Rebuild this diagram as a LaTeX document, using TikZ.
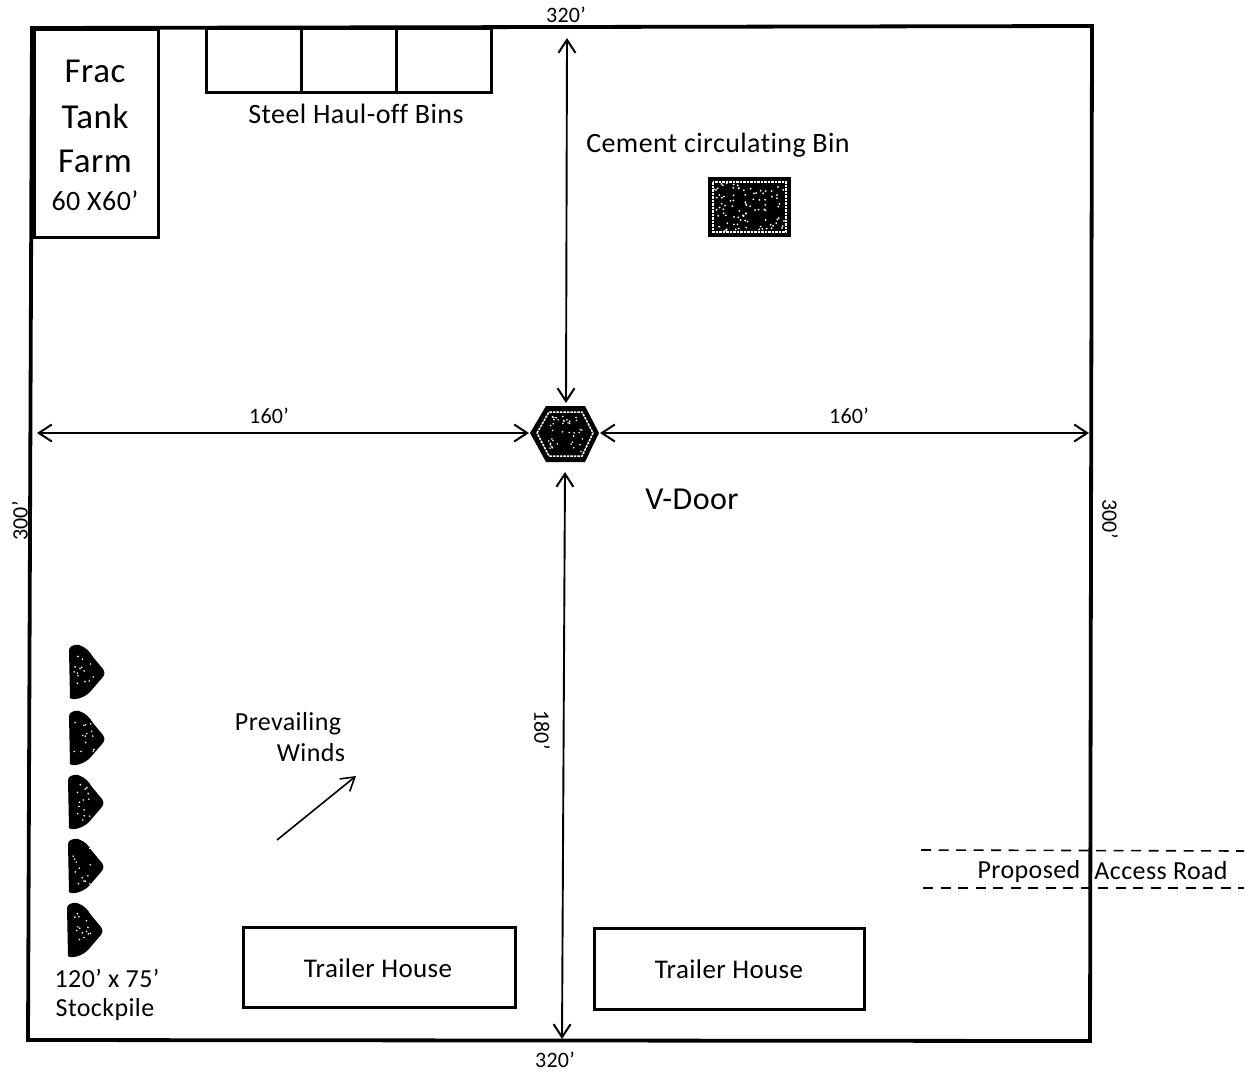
\documentclass[tikz,border=0pt]{standalone}
\usepackage{fontspec}
\setmainfont[LetterSpace=1.5,Ligatures=NoCommon]{Carlito}
\usetikzlibrary{arrows.meta}
\tikzset{
  x=1pt,y=-1pt,
  frame/.style={draw=black,line width=3.8pt,line join=miter},
  box/.style={draw=black,line width=3pt},
  dim/.style={draw=black,line width=1.9pt,{Straight Barb[length=13pt,width=17pt,line width=2pt]}-{Straight Barb[length=13pt,width=17pt,line width=2pt]}},
  wind/.style={draw=black,line width=1.6pt,-{Straight Barb[length=13pt,width=16pt,line width=1.6pt]}},
  road/.style={draw=black,line width=1.6pt,dash pattern=on 10pt off 7.5pt},
  lab/.style={font=\fontsize{28}{30}\selectfont,inner sep=0pt,anchor=center,text=black},
  house/.style={font=\fontsize{27}{30}\selectfont,inner sep=0pt,anchor=center,text=black},
  mid/.style={font=\fontsize{26}{28}\selectfont,inner sep=0pt,anchor=center,text=black},
  big/.style={font=\fontsize{35}{38}\selectfont,inner sep=0pt,anchor=center,text=black},
  small/.style={font=\fontsize{22}{24}\selectfont,inner sep=0pt,anchor=center,text=black},
  ring/.style={draw=white,line width=1.5pt,dash pattern=on 2.5pt off 1pt},
  pile/.pic={
    \fill[black] (-1,-22) .. controls (-1,-26) and (5,-28) .. (9,-27)
      .. controls (16,-25) and (20,-20) .. (23,-15) -- (33,-3)
      .. controls (35,0) and (35,3) .. (32,6) -- (20,20)
      .. controls (14,26) and (3,29) .. (0,26) -- cycle;
    \foreach \i in {1,...,14}{\fill[white] (4+rnd*20,-18+rnd*36) circle[radius=0.9pt];}
  }
}
\begin{document}
\begin{tikzpicture}
\pgfmathsetseed{7}
\useasboundingbox (0,0) rectangle (1246,1073);
\fill[white] (0,0) rectangle (1246,1073);

% site frame
\draw[frame] (32,28) -- (1092,26) -- (1090,1041) -- (28,1040) -- cycle;

% frac tank
\draw[box] (34,30) rectangle (158,237);
\node[big] (frac) at (95,71) {Frac};
\node[big] (tank) at (95,116) {Tank};
\node[big] (farm) at (95,161) {Farm};
\node[lab] (size) at (95,201) {60 X60’};

% bins
\draw[box] (206,29) rectangle (491,92);
\draw[box] (301,29) -- (301,92);
\draw[box] (396,29) -- (396,92);
\node[lab] (bins) at (356,114) {Steel Haul-off Bins};

% cement bin
\node[lab] (cementlab) at (718,145) {Cement circulating Bin};
\fill[black] (708,177) rectangle (791,237);
\draw[ring] (713,182) rectangle (786,232);
\foreach \i in {1,...,90}{\fill[white] (714+rnd*71,183+rnd*48) circle[radius=1pt];}

% wellhead hexagon
\fill[black] (530,433) -- (546,406) -- (585,406) -- (599,433) -- (585,462) -- (546,462) -- cycle;
\draw[ring] (537,433) -- (549,412) -- (582,412) -- (593,433) -- (582,456) -- (549,456) -- cycle;
\foreach \i in {1,...,40}{\fill[white] (547+rnd*37,415+rnd*38) circle[radius=0.9pt];}

% dimension arrows
\coordinate (topend) at (567,38);
\coordinate (hexN) at (566,403);
\coordinate (leftend) at (37,433);
\coordinate (hexW) at (529,433);
\coordinate (hexE) at (600,433);
\coordinate (rightend) at (1089,433);
\coordinate (hexS) at (565,472);
\coordinate (botend) at (562,1039);
\draw[dim] (topend) -- (hexN);
\draw[dim] (leftend) -- (hexW);
\draw[dim] (hexE) -- (rightend);
\draw[dim] (hexS) -- (botend);

\node[small] (d1) at (566,15) {320’};
\node[small] (d2) at (269,416) {160’};
\node[small] (d3) at (849,416) {160’};
\node[small] (d4) at (555,1060) {320’};
\node[small,rotate=90] (d5) at (20,521) {300’};
\node[small,rotate=-90] (d6) at (1110,519) {300’};
\node[small,rotate=-90] (d7) at (542,730) {180’};
\node[font=\fontsize{32}{34}\selectfont,inner sep=0pt] (vdoor) at (692,499) {V-Door};

% winds
\node[mid] (prev) at (288,724) {Prevailing};
\node[mid] (winds) at (311,753) {Winds};
\coordinate (w1) at (277,840);
\coordinate (w2) at (356,776);
\draw[wind] (w1) -- (w2);

% stockpiles
\pic at (70,672) {pile};
\pic at (70,738) {pile};
\pic at (69,802) {pile};
\pic at (69,866) {pile};
\pic at (68,930) {pile};
\node[mid] (sp1) at (107,978) {120’ x 75’};
\node[mid] (sp2) at (105,1010) {Stockpile};

% trailer houses
\draw[box] (243,927) rectangle (515,1007);
\node[house] (th1) at (378,968) {Trailer House};
\draw[box] (594,928) rectangle (864,1009);
\node[house] (th2) at (729,969) {Trailer House};

% access road
\draw[road] (921,850) -- (1244,851);
\draw[road] (923,888) -- (1244,888);
\node[mid] (pr) at (1029,872) {Proposed};
\node[mid] (ar) at (1161,871) {Access Road};
\end{tikzpicture}
\end{document}
